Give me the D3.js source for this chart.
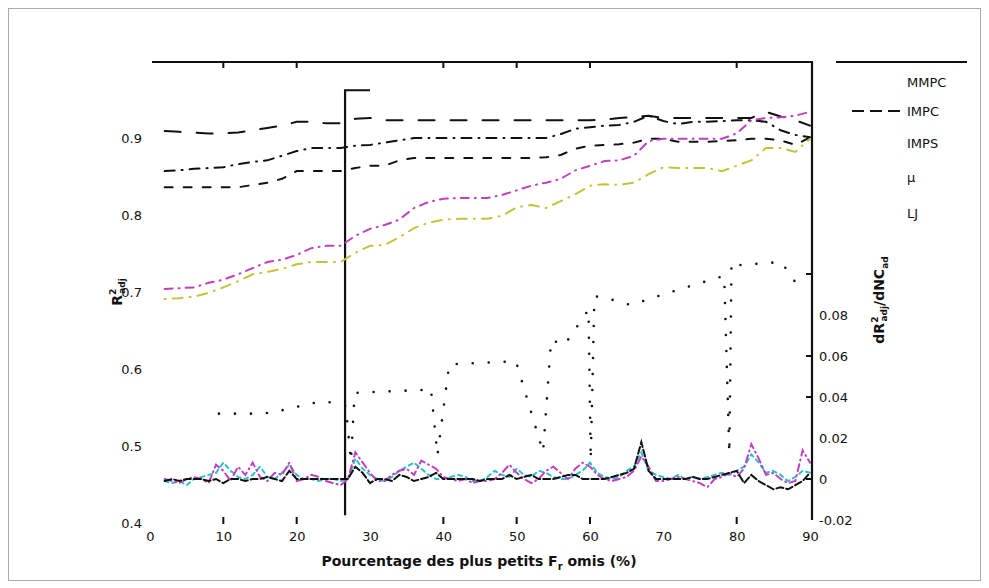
<!DOCTYPE html>
<html><head><meta charset="utf-8">
<script src="https://cdn.jsdelivr.net/npm/d3@7"></script>
<style>body{margin:0;background:#fff}svg{display:block}text{font-family:"DejaVu Sans",sans-serif;fill:#111}</style>
</head><body><svg id="c" width="989" height="588"></svg>
<script>
// ---------- data ----------
const pct = [2,4,6,8,10,12,14,16,18,20,22,24,26,28,30,32,34,36,38,40,42,44,46,48,50,52,54,56,58,60,62,64,66,68,70,72,74,76,78,80,82,84,86,88,90];
const mmpc = [0.909,0.908,0.907,0.906,0.906,0.907,0.910,0.913,0.916,0.921,0.921,0.919,0.919,0.925,0.926,0.923,0.923,0.923,0.923,0.923,0.923,0.923,0.923,0.923,0.923,0.923,0.923,0.923,0.923,0.923,0.924,0.926,0.927,0.929,0.926,0.926,0.926,0.926,0.926,0.926,0.926,0.934,0.928,0.923,0.916];
const impc = [0.857,0.858,0.860,0.861,0.862,0.866,0.869,0.871,0.877,0.883,0.887,0.887,0.887,0.890,0.891,0.894,0.897,0.900,0.900,0.900,0.900,0.900,0.900,0.900,0.900,0.900,0.900,0.905,0.912,0.914,0.916,0.917,0.921,0.929,0.922,0.918,0.921,0.921,0.922,0.923,0.923,0.921,0.910,0.904,0.901];
const imps = [0.836,0.836,0.836,0.836,0.836,0.836,0.839,0.842,0.847,0.857,0.857,0.857,0.857,0.861,0.864,0.864,0.871,0.874,0.874,0.874,0.874,0.874,0.874,0.874,0.874,0.874,0.875,0.878,0.886,0.890,0.891,0.892,0.894,0.899,0.899,0.895,0.895,0.895,0.896,0.897,0.899,0.899,0.897,0.891,0.901];
const magentaR2 = [0.704,0.705,0.706,0.712,0.716,0.723,0.731,0.739,0.742,0.748,0.757,0.760,0.760,0.773,0.782,0.787,0.794,0.809,0.817,0.821,0.822,0.822,0.822,0.826,0.832,0.838,0.842,0.847,0.858,0.864,0.870,0.871,0.877,0.896,0.899,0.899,0.899,0.899,0.899,0.906,0.923,0.926,0.927,0.929,0.934];
const yellowR2 = [0.691,0.692,0.694,0.699,0.706,0.714,0.723,0.726,0.730,0.736,0.739,0.739,0.739,0.751,0.760,0.761,0.771,0.783,0.790,0.794,0.795,0.795,0.795,0.799,0.810,0.813,0.809,0.818,0.827,0.838,0.840,0.839,0.842,0.853,0.862,0.861,0.861,0.861,0.857,0.864,0.871,0.887,0.887,0.882,0.899];

// dotted series (left axis)
const dotPct = [9.4,15,17,18.7,20.5,23.3,25.2,26.7,27.4,27.9,37.5,38.3,39.2,40.8,49.9,53.6,54.7,56.5,59.8,60.1,60.6,61.5,65.6,70,78.3,79.0,79.3,80.5,86.1,87.9,89];
const dotR2  = [0.542,0.542,0.544,0.548,0.552,0.558,0.556,0.552,0.480,0.569,0.573,0.575,0.488,0.606,0.610,0.492,0.638,0.631,0.677,0.482,0.694,0.694,0.683,0.697,0.721,0.490,0.739,0.735,0.739,0.714,0.708];

// derivatives (right axis)
const pctD = [2,3,4,5,6,7,8,9,10,11,12,13,14,15,16,17,18,19,20,21,22,23,24,25,26,27,28,29,30,31,32,33,34,35,36,37,38,39,40,41,42,43,44,45,46,47,48,49,50,51,52,53,54,55,56,57,58,59,60,61,62,63,64,65,66,67,68,69,70,71,72,73,74,75,76,77,78,79,80,81,82,83,84,85,86,87,88,89,90];
const cyanD = [-0.001,-0.002,-0.001,-0.003,0,0.001,0.002,0.003,0.008,0.004,0.001,0,0.002,0.006,0.001,0,0.003,0.007,0.002,0,0,-0.001,0,0,-0.001,0,0.010,0.005,0.002,0,-0.001,0.001,0.004,0.006,0.008,0.005,0.002,0,0,0.001,0.002,0.001,-0.001,-0.001,0.001,0.004,0.002,0.001,0.005,0.002,0.001,0.004,0.003,0.001,0,0,0.002,0.004,0.008,0.003,0.001,0,0.001,0.004,0.006,0.013,0.004,0.002,0.001,0,0.002,0,0.001,0,0.001,0.002,0.003,0.002,0.004,0.006,0.012,0.008,0.003,0.004,0.002,-0.001,0.001,0.004,0.003];
const magentaD = [0,-0.001,-0.002,0,0.001,0,-0.002,0.007,0.004,-0.001,0.006,0.002,0.008,0.001,-0.001,0.003,0.002,0.008,-0.001,0,0.002,0.001,-0.001,-0.002,-0.003,0,0.013,0.008,0.003,-0.001,-0.001,0.002,0.004,0.005,0.002,0.009,0.007,0.005,0.001,0,-0.001,0,-0.002,-0.001,-0.001,0,0.003,0.007,0.003,0,-0.002,0,0.004,0.006,0.003,0,0.005,0.008,0.006,0.002,0,-0.001,0,0.001,0.004,0.011,0.006,-0.001,-0.001,0,0.001,0,-0.001,-0.002,-0.004,0,0.001,0.003,0.001,0.005,0.017,0.010,0.002,0.003,0,-0.002,-0.001,0.014,0.008];
const blackD = [-0.001,0,-0.001,0,0,0,-0.001,0,-0.002,0,0,-0.001,0,0,0.001,0,-0.001,0.004,0,0,0,0,0,0,0,0,0.006,0.003,-0.002,0,0,-0.001,0.002,0.001,-0.001,0,0.001,0.003,0,0,0,0,0,-0.001,0,0,0,0.002,0,0.001,0.002,0,0,0,0.001,0.002,0.002,0,0,0,0,0.001,0.002,0.003,0.005,0.018,0.004,0,0,0,0,0,0.001,0,0,0.001,0.002,0.003,0.004,-0.002,0.002,-0.001,-0.003,-0.005,-0.004,-0.005,-0.003,-0.001,0.003];

const xTickLabels = [0,10,20,30,40,50,60,70,80,90];
const xTickMarks = [10,20,40,50,60,80];
const yLeftLabels = [0.4,0.5,0.6,0.7,0.8,0.9];
const yRightLabels = [-0.02,0,0.02,0.04,0.06,0.08];
const yRightMarks = [0,0.04,0.06,0.1];
const legendNames = ["MMPC","IMPC","IMPS","μ","LJ"];
const markerPct = 26.6, markerTop = 0.962, markerBottom = 0.41, markerCapEnd = 30;

// ---------- chart ----------
const svg = d3.select("#c");
const x = d3.scaleLinear().domain([0,90]).range([150,810]);
const yL = d3.scaleLinear().domain([0.4,1.0]).range([523,61]);
const yR = d3.scaleLinear().domain([-0.02,0.08]).range([520,315]);

svg.append("rect").attr("x",8.5).attr("y",8.5).attr("width",972).attr("height",572)
  .attr("fill","none").attr("stroke","#aaa");

// top border + ticks
svg.append("line").attr("x1",x(0)+2).attr("x2",x(90)+2).attr("y1",yL(1.0)+1).attr("y2",yL(1.0)+1)
  .attr("stroke","#111").attr("stroke-width",2.2);
svg.append("g").selectAll("line").data(xTickMarks).join("line")
  .attr("x1",d=>x(d)).attr("x2",d=>x(d)).attr("y1",yL(1.0)+1).attr("y2",yL(1.0)+7)
  .attr("stroke","#111").attr("stroke-width",2);
// bottom ticks
svg.append("g").selectAll("line").data(xTickMarks).join("line")
  .attr("x1",d=>x(d)).attr("x2",d=>x(d)).attr("y1",yL(0.4)-6).attr("y2",yL(0.4)+1)
  .attr("stroke","#111").attr("stroke-width",2);
// bottom labels
const gx = svg.append("g").attr("transform",`translate(0,${yL(0.4)+3})`)
  .call(d3.axisBottom(x).tickValues(xTickLabels).tickSize(0).tickPadding(6).tickFormat(d3.format("d")));
gx.select(".domain").remove();
gx.selectAll("text").attr("font-size",13).attr("font-family","DejaVu Sans");

// left labels
const gl = svg.append("g").attr("transform",`translate(${x(0)},0)`)
  .call(d3.axisLeft(yL).tickValues(yLeftLabels).tickSize(0).tickPadding(8).tickFormat(d3.format(".1f")));
gl.select(".domain").remove();
gl.selectAll("text").attr("font-size",13).attr("font-family","DejaVu Sans");

// right axis
const rx = x(90)+2;
svg.append("line").attr("x1",rx).attr("x2",rx).attr("y1",yL(1.0)).attr("y2",yR(-0.02))
  .attr("stroke","#111").attr("stroke-width",2.2);
svg.append("g").selectAll("line").data(yRightMarks).join("line")
  .attr("x1",rx-6).attr("x2",rx).attr("y1",d=>yR(d)).attr("y2",d=>yR(d))
  .attr("stroke","#111").attr("stroke-width",2);
const gr = svg.append("g").attr("transform",`translate(${rx},0)`)
  .call(d3.axisRight(yR).tickValues(yRightLabels).tickSize(0).tickPadding(7).tickFormat(d=>d===0?"0":d.toFixed(2)));
gr.select(".domain").remove();
gr.selectAll("text").attr("font-size",13).attr("font-family","DejaVu Sans");

// axis titles
svg.append("text").attr("x",479).attr("y",566).attr("text-anchor","middle")
  .attr("font-size",14).attr("font-weight","bold")
  .html('Pourcentage des plus petits F<tspan font-size="10" dy="4">r</tspan><tspan dy="-4"> omis (%)</tspan>');
svg.append("text").attr("transform","translate(122,292) rotate(-90)").attr("text-anchor","middle")
  .attr("font-size",14).attr("font-weight","bold")
  .html('R<tspan font-size="9" dy="-6">2</tspan><tspan font-size="9" dy="9" dx="-5">adj</tspan>');
svg.append("text").attr("transform","translate(884,300) rotate(-90)").attr("text-anchor","middle")
  .attr("font-size",14).attr("font-weight","bold")
  .html('dR<tspan font-size="9" dy="-6">2</tspan><tspan font-size="9" dy="9" dx="-5">adj</tspan><tspan dy="-3">/dNC</tspan><tspan font-size="9" dy="4">ad</tspan>');

// marker line
svg.append("path").attr("fill","none").attr("stroke","#111").attr("stroke-width",2.2)
  .attr("d",`M${x(markerPct)},${yL(markerBottom)}V${yL(markerTop)}H${x(markerCapEnd)}`);

// series
const lineL = d3.line().x(d=>x(d[0])).y(d=>yL(d[1]));
const lineR = d3.line().x(d=>x(d[0])).y(d=>yR(d[1]));
function draw(gen, xs, ys, color, dash, w){
  svg.append("path").datum(xs.map((p,i)=>[p,ys[i]])).attr("d",gen)
    .attr("fill","none").attr("stroke",color).attr("stroke-width",w||2)
    .attr("stroke-dasharray",dash).attr("stroke-linecap","round");
}
draw(lineL, pct, mmpc, "#111", "16,16");
draw(lineL, pct, impc, "#111", "10,7,1,7");
draw(lineL, pct, imps, "#111", "8,11");
draw(lineL, pct, magentaR2, "#c040c0", "8,6,1,6");
draw(lineL, pct, yellowR2, "#c4c43a", "1,7,10,7");
draw(lineL, dotPct, dotR2, "#111", "0,16", 2.6);

draw(lineR, pctD, cyanD, "#2cc0c8", "4,4");
draw(lineR, pctD, magentaD, "#c040c0", "7,4,1,4");
draw(lineR, pctD, blackD, "#111", "7,3");

// legend
svg.append("line").attr("x1",836).attr("x2",967).attr("y1",62).attr("y2",62)
  .attr("stroke","#111").attr("stroke-width",2.2);
const legY = [82,111,143,177,213];
const lg = svg.append("g");
lg.selectAll("text").data(legendNames).join("text")
  .attr("x",907).attr("y",(d,i)=>legY[i]+5).attr("font-size",13)
  .text(d=>d);
lg.append("line").attr("x1",852).attr("x2",902).attr("y1",legY[1]).attr("y2",legY[1])
  .attr("stroke","#111").attr("stroke-width",2).attr("stroke-dasharray","12,6");
</script></body></html>
